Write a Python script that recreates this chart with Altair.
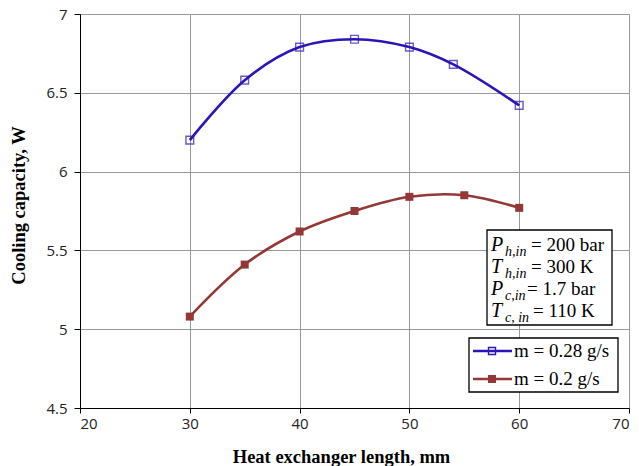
import altair as alt
import pandas as pd

# ---- data ----
x_blue = [30, 35, 40, 45, 50, 54, 60]
y_blue = [6.20, 6.58, 6.79, 6.84, 6.79, 6.68, 6.42]
x_red = [30, 35, 40, 45, 50, 55, 60]
y_red = [5.08, 5.41, 5.62, 5.75, 5.84, 5.85, 5.77]
series_names = ["m = 0.28 g/s", "m = 0.2 g/s"]
series_colors = ["#2a16b8", "#953735"]
x_ticks = [20, 30, 40, 50, 60, 70]
y_ticks = [4.5, 5, 5.5, 6, 6.5, 7]
ann_main = ["P", "T", "P", "T"]
ann_sub = ["h,in", "h,in", "c,in", "c, in"]
ann_value = ["= 200 bar", "= 300 K", "= 1.7 bar", "= 110 K"]

W, H = 549, 394
SERIF = "Liberation Serif"
SANS = "Open Sans"

df = pd.DataFrame({
    "x": x_blue + x_red,
    "y": y_blue + y_red,
    "s": [series_names[0]] * len(x_blue) + [series_names[1]] * len(x_red),
})

xs = alt.Scale(domain=[20, 70], nice=False, zero=False)
ys = alt.Scale(domain=[4.5, 7], nice=False, zero=False)
cs = alt.Scale(domain=series_names, range=series_colors)

X = alt.X("x:Q", scale=xs, title="Heat exchanger length, mm",
          axis=alt.Axis(values=x_ticks, grid=True, gridColor="#999999", gridWidth=1,
                        domainColor="black", tickColor="black", tickSize=5,
                        labelFont=SANS, labelFontSize=15, labelColor="#222222",
                        labelPadding=3,
                        titleFont=SERIF, titleFontSize=18.5, titleFontWeight="bold",
                        titleColor="black", titlePadding=16, titleX=261,
                        titleAlign="center"))
Y = alt.Y("y:Q", scale=ys, title="Cooling capacity, W",
          axis=alt.Axis(values=y_ticks, format="~g", grid=True, gridColor="#999999", gridWidth=1,
                        domainColor="black", tickColor="black", tickSize=6,
                        labelFont=SANS, labelFontSize=15, labelColor="#222222",
                        labelPadding=7,
                        titleFont=SERIF, titleFontSize=18.5, titleFontWeight="bold",
                        titleColor="black", titlePadding=17, titleY=191,
                        titleAlign="center"))

base = alt.Chart(df)
lines = base.mark_line(interpolate="catmull-rom", strokeWidth=2.6).encode(
    x=X, y=Y, color=alt.Color("s:N", scale=cs, legend=None), detail="s:N")
pts_blue = alt.Chart(df[df.s == series_names[0]]).mark_point(
    shape="square", filled=False, size=60, strokeWidth=1.4).encode(
    x="x:Q", y="y:Q", color=alt.Color("s:N", scale=cs, legend=None))
pts_red = alt.Chart(df[df.s == series_names[1]]).mark_point(
    shape="square", filled=True, size=64, opacity=1).encode(
    x="x:Q", y="y:Q", color=alt.Color("s:N", scale=cs, legend=None))

one = pd.DataFrame({"a": [0]})


def box(x0, x1, y0, y1):
    return alt.Chart(one).mark_rect(fill="white", stroke="black", strokeWidth=1.3).encode(
        x=alt.value(x0), x2=alt.value(x1), y=alt.value(y0), y2=alt.value(y1))


def txt(t, x, y, size, style="normal", baseline="alphabetic", color="black"):
    return alt.Chart(pd.DataFrame({"t": [t]})).mark_text(
        font=SERIF, fontSize=size, fontStyle=style, align="left",
        baseline=baseline, color=color).encode(
        text="t:N", x=alt.value(x), y=alt.value(y))


layers = [lines, pts_blue, pts_red]

# annotation box
layers.append(box(407, 532, 216, 311))
eq_x = [451, 451, 447, 453]
for i in range(4):
    yb = 237 + 22 * i
    layers.append(txt(ann_main[i], 411, yb, 20, "italic"))
    layers.append(txt(ann_sub[i], 425, yb + 5, 14, "italic"))
    layers.append(txt(ann_value[i], eq_x[i], yb, 19))

# legend box
layers.append(box(389, 538, 324, 378))
leg_y = [337, 365]
for i in range(2):
    layers.append(alt.Chart(one).mark_rule(color=series_colors[i], strokeWidth=2.6).encode(
        x=alt.value(393), x2=alt.value(432), y=alt.value(leg_y[i])))
    layers.append(alt.Chart(one).mark_point(
        shape="square", filled=(i == 1), size=(49 if i == 0 else 64),
        strokeWidth=1.4, color=series_colors[i], opacity=1).encode(
        x=alt.value(412), y=alt.value(leg_y[i])))
    layers.append(txt(series_names[i], 434, leg_y[i], 19, baseline="middle"))

chart = alt.layer(*layers).properties(
    width=W, height=H,
    autosize=alt.AutoSizeParams(type="none"),
    padding={"left": 80, "top": 14, "right": 10, "bottom": 58},
).configure_view(stroke=None).configure(background="white")

chart.save("out.html", embed_options={"renderer": "svg", "actions": False})
